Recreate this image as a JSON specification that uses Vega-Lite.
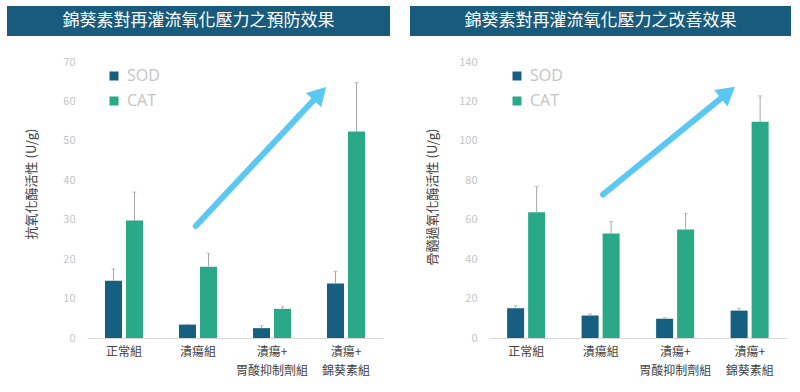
{
  "$schema": "https://vega.github.io/schema/vega-lite/v6.json",
  "padding": {"left": 7, "top": 6, "right": 2, "bottom": 2},
  "background": "white",
  "config": {"view": {"stroke": null}, "font": "Noto Sans CJK TC", "axisY": {"labelOverlap": false, "labelFlush": false, "labelBound": false, "labelSeparation": 0}},
  "datasets": {
    "left": [
      {"group": "正常組", "enzyme": "SOD", "value": 14.5, "upper": 17.5},
      {"group": "正常組", "enzyme": "CAT", "value": 29.8, "upper": 37.0},
      {"group": "潰瘍組", "enzyme": "SOD", "value": 3.4, "upper": 3.5},
      {"group": "潰瘍組", "enzyme": "CAT", "value": 18.1, "upper": 21.5},
      {"group": "潰瘍+\n胃酸抑制劑組", "enzyme": "SOD", "value": 2.5, "upper": 3.1},
      {"group": "潰瘍+\n胃酸抑制劑組", "enzyme": "CAT", "value": 7.4, "upper": 7.9},
      {"group": "潰瘍+\n錦葵素組", "enzyme": "SOD", "value": 13.8, "upper": 16.9},
      {"group": "潰瘍+\n錦葵素組", "enzyme": "CAT", "value": 52.4, "upper": 64.8}
    ],
    "right": [
      {"group": "正常組", "enzyme": "SOD", "value": 15.1, "upper": 16.4},
      {"group": "正常組", "enzyme": "CAT", "value": 63.8, "upper": 76.8},
      {"group": "潰瘍組", "enzyme": "SOD", "value": 11.4, "upper": 12.2},
      {"group": "潰瘍組", "enzyme": "CAT", "value": 53.0, "upper": 59.1},
      {"group": "潰瘍+\n胃酸抑制劑組", "enzyme": "SOD", "value": 9.8, "upper": 10.3},
      {"group": "潰瘍+\n胃酸抑制劑組", "enzyme": "CAT", "value": 55.0, "upper": 63.2},
      {"group": "潰瘍+\n錦葵素組", "enzyme": "SOD", "value": 13.9, "upper": 15.1},
      {"group": "潰瘍+\n錦葵素組", "enzyme": "CAT", "value": 109.7, "upper": 122.8}
    ],
    "arrowsL": [{"x": 1.97, "y": 28.4, "x2": 3.646, "y2": 62.0}],
    "arrowsR": [{"x": 2.03, "y": 72.8, "x2": 3.707, "y2": 124.5}]
  },
  "hconcat": [
    {
      "spacing": 20,
      "vconcat": [
        {
          "width": 383, "height": 30,
          "view": {"fill": "#185b7d", "stroke": null},
          "data": {"values": [{"title": "錦葵素對再灌流氧化壓力之預防效果"}]},
          "mark": {"type": "text", "color": "white", "fontSize": 17, "font": "Noto Sans CJK TC"},
          "encoding": {"text": {"field": "title"}}
        },
        {
          "width": 383, "height": 276,
          "data": {"name": "left"},
          "resolve": {"scale": {"x": "independent", "y": "independent"}, "axis": {"x": "independent", "y": "independent"}},
          "layer": [
            {
              "encoding": {
                "x": {"field": "group", "type": "nominal",
                  "scale": {"domain": ["正常組", "潰瘍組", "潰瘍+\n胃酸抑制劑組", "潰瘍+\n錦葵素組"], "range": [80, 376], "paddingInner": 0.486, "paddingOuter": 0.243},
                  "axis": {"title": null, "labelAngle": 0, "ticks": false, "domainColor": "#d9d9d9", "domainWidth": 1, "labelFont": "Noto Sans CJK TC", "labelFontSize": 12, "labelColor": "#404040", "labelPadding": 8, "labelLineHeight": 19, "labelOverlap": false, "labelExpr": "split(datum.label, '\\n')"}},
                "xOffset": {"field": "enzyme", "type": "nominal", "scale": {"domain": ["SOD", "CAT"], "paddingInner": 0.19, "paddingOuter": 0}}
              },
              "layer": [
                {
                  "mark": {"type": "bar"},
                  "encoding": {
                    "y": {"field": "value", "type": "quantitative", "scale": {"domain": [0, 70], "nice": false},
                      "axis": {"tickCount": 8, "labelOverlap": false, "labelFlush": false, "domain": false, "ticks": false, "grid": false, "offset": -80, "labelPadding": 12, "labelColor": "#c4c4c4", "labelFontSize": 11, "title": "抗氧化酶活性 (U/g)", "titleFont": "Noto Sans CJK TC", "titleFontSize": 13, "titleColor": "#404040", "titleFontWeight": "normal", "titleX": -49, "titleY": 66, "titleAlign": "right", "titleAngle": -90, "titleBaseline": "bottom"}},
                    "color": {"field": "enzyme", "type": "nominal", "scale": {"domain": ["SOD", "CAT"], "range": ["#165f80", "#2aa989"]},
                      "legend": {"orient": "none", "legendX": 99, "legendY": 62, "title": null, "symbolType": "square", "symbolSize": 81, "labelFontSize": 16, "labelColor": "#c4c4c4", "labelFont": "Open Sans", "rowPadding": 9, "labelOffset": 5, "symbolStrokeWidth": 0, "padding": 0}}
                  }
                },
                {
                  "mark": {"type": "rule", "color": "#a6a6a6", "strokeWidth": 1},
                  "encoding": {"y": {"field": "value", "type": "quantitative"}, "y2": {"field": "upper"}}
                },
                {
                  "mark": {"type": "tick", "color": "#a6a6a6", "thickness": 1, "size": 4, "orient": "horizontal"},
                  "encoding": {"y": {"field": "upper", "type": "quantitative"}}
                }
              ]
            },
            {
              "data": {"name": "arrowsL"},
              "layer": [
                {
                  "mark": {"type": "rule", "color": "#5ac8f2", "strokeWidth": 6, "strokeCap": "round"},
                  "encoding": {
                    "x": {"field": "x", "type": "quantitative", "scale": {"domain": [0.5, 4.5], "range": [80, 376]}, "axis": null},
                    "y": {"field": "y", "type": "quantitative", "scale": {"domain": [0, 70]}, "axis": null},
                    "x2": {"field": "x2"}, "y2": {"field": "y2"}
                  }
                },
                {
                  "mark": {"type": "point", "shape": "triangle-up", "filled": true, "color": "#5ac8f2", "size": 441, "angle": 43, "opacity": 1},
                  "encoding": {
                    "x": {"field": "x2", "type": "quantitative", "scale": {"domain": [0.5, 4.5], "range": [80, 376]}, "axis": null},
                    "y": {"field": "y2", "type": "quantitative", "scale": {"domain": [0, 70]}, "axis": null}
                  }
                }
              ]
            }
          ]
        }
      ]
    },
    {
      "spacing": 20,
      "vconcat": [
        {
          "width": 381, "height": 30,
          "view": {"fill": "#185b7d", "stroke": null},
          "data": {"values": [{"title": "錦葵素對再灌流氧化壓力之改善效果"}]},
          "mark": {"type": "text", "color": "white", "fontSize": 17, "font": "Noto Sans CJK TC"},
          "encoding": {"text": {"field": "title"}}
        },
        {
          "width": 381, "height": 276,
          "data": {"name": "right"},
          "resolve": {"scale": {"x": "independent", "y": "independent"}, "axis": {"x": "independent", "y": "independent"}},
          "layer": [
            {
              "encoding": {
                "x": {"field": "group", "type": "nominal",
                  "scale": {"domain": ["正常組", "潰瘍組", "潰瘍+\n胃酸抑制劑組", "潰瘍+\n錦葵素組"], "range": [79, 377], "paddingInner": 0.486, "paddingOuter": 0.243},
                  "axis": {"title": null, "labelAngle": 0, "ticks": false, "domainColor": "#d9d9d9", "domainWidth": 1, "labelFont": "Noto Sans CJK TC", "labelFontSize": 12, "labelColor": "#404040", "labelPadding": 8, "labelLineHeight": 19, "labelOverlap": false, "labelExpr": "split(datum.label, '\\n')"}},
                "xOffset": {"field": "enzyme", "type": "nominal", "scale": {"domain": ["SOD", "CAT"], "paddingInner": 0.19, "paddingOuter": 0}}
              },
              "layer": [
                {
                  "mark": {"type": "bar"},
                  "encoding": {
                    "y": {"field": "value", "type": "quantitative", "scale": {"domain": [0, 140], "nice": false},
                      "axis": {"tickCount": 8, "labelOverlap": false, "labelFlush": false, "domain": false, "ticks": false, "grid": false, "offset": -79, "labelPadding": 12, "labelColor": "#c4c4c4", "labelFontSize": 11, "title": "骨髓過氧化酶活性 (U/g)", "titleFont": "Noto Sans CJK TC", "titleFontSize": 13, "titleColor": "#404040", "titleFontWeight": "normal", "titleX": -50, "titleY": 66, "titleAlign": "right", "titleAngle": -90, "titleBaseline": "bottom"}},
                    "color": {"field": "enzyme", "type": "nominal", "scale": {"domain": ["SOD", "CAT"], "range": ["#165f80", "#2aa989"]},
                      "legend": {"orient": "none", "legendX": 99, "legendY": 62, "title": null, "symbolType": "square", "symbolSize": 81, "labelFontSize": 16, "labelColor": "#c4c4c4", "labelFont": "Open Sans", "rowPadding": 9, "labelOffset": 5, "symbolStrokeWidth": 0, "padding": 0}}
                  }
                },
                {
                  "mark": {"type": "rule", "color": "#a6a6a6", "strokeWidth": 1},
                  "encoding": {"y": {"field": "value", "type": "quantitative"}, "y2": {"field": "upper"}}
                },
                {
                  "mark": {"type": "tick", "color": "#a6a6a6", "thickness": 1, "size": 4, "orient": "horizontal"},
                  "encoding": {"y": {"field": "upper", "type": "quantitative"}}
                }
              ]
            },
            {
              "data": {"name": "arrowsR"},
              "layer": [
                {
                  "mark": {"type": "rule", "color": "#5ac8f2", "strokeWidth": 6, "strokeCap": "round"},
                  "encoding": {
                    "x": {"field": "x", "type": "quantitative", "scale": {"domain": [0.5, 4.5], "range": [79, 377]}, "axis": null},
                    "y": {"field": "y", "type": "quantitative", "scale": {"domain": [0, 140]}, "axis": null},
                    "x2": {"field": "x2"}, "y2": {"field": "y2"}
                  }
                },
                {
                  "mark": {"type": "point", "shape": "triangle-up", "filled": true, "color": "#5ac8f2", "size": 441, "angle": 51, "opacity": 1},
                  "encoding": {
                    "x": {"field": "x2", "type": "quantitative", "scale": {"domain": [0.5, 4.5], "range": [79, 377]}, "axis": null},
                    "y": {"field": "y2", "type": "quantitative", "scale": {"domain": [0, 140]}, "axis": null}
                  }
                }
              ]
            }
          ]
        }
      ]
    }
  ],
  "spacing": 20,
  "resolve": {"scale": {"x": "independent", "y": "independent", "color": "independent"}, "legend": {"color": "independent"}}
}
